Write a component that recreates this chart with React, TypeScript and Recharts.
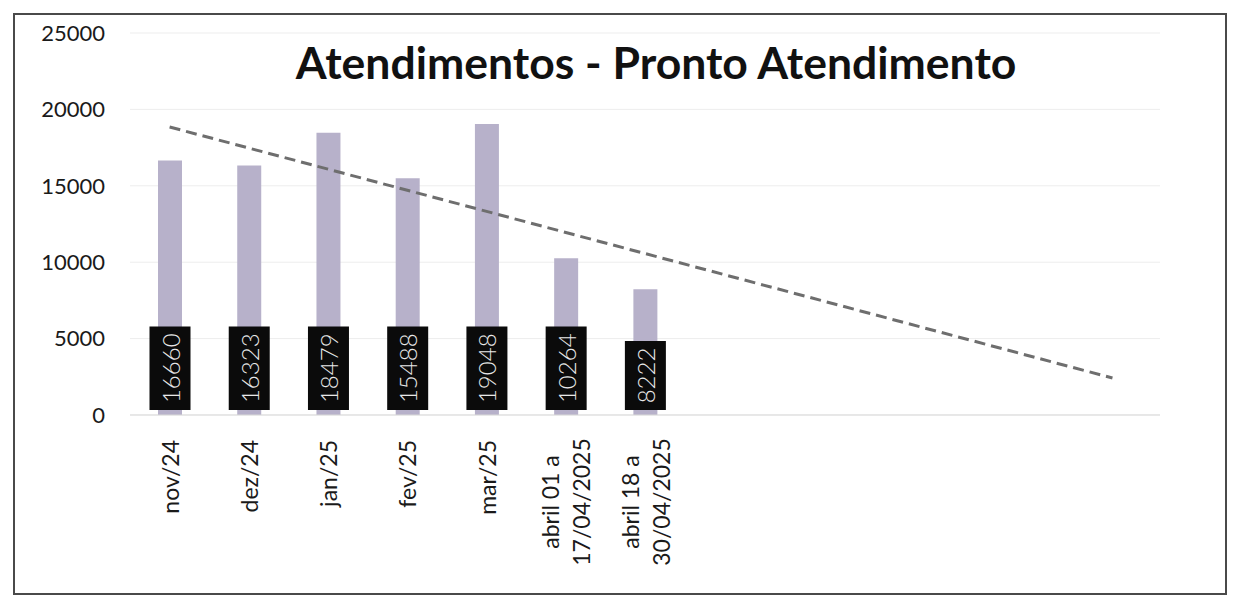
import { ComposedChart, Bar, XAxis, YAxis, CartesianGrid, ReferenceLine, LabelList } from "recharts";

const categories = [
  "nov/24",
  "dez/24",
  "jan/25",
  "fev/25",
  "mar/25",
  "abril 01 a\n17/04/2025",
  "abril 18 a\n30/04/2025",
];
const atendimentos = [16660, 16323, 18479, 15488, 19048, 10264, 8222];
const yTicks = [0, 5000, 10000, 15000, 20000, 25000];
// dashed linear trendline as it is drawn in the picture (start / end points)
const trendX = [1, 12.9];
const trendY = [18850, 2420];

const data = categories.map((c, i) => ({ idx: i + 1, name: c, value: atendimentos[i] }));

const FONT = "Lato, 'Open Sans', sans-serif";

const CategoryTick = ({ x, y, payload }: any) => {
  const label = categories[payload.value - 1];
  if (!label) return null;
  const lines = label.split("\n");
  const maxChars = Math.max(...lines.map((l) => l.length));
  const top = 17;
  return (
    <g transform={`translate(${x},${y})`}>
      {lines.map((line, i) => {
        const v = (i - (lines.length - 1) / 2) * 31;
        const single = lines.length === 1;
        return (
          <text
            key={i}
            transform="rotate(-90)"
            x={single ? -top : -(top + (maxChars * 12.4) / 2)}
            y={v}
            textAnchor={single ? "end" : "middle"}
            dominantBaseline="central"
            fontFamily={FONT}
            fontSize={23}
            fill="#1a1a1a"
          >
            {line}
          </text>
        );
      })}
    </g>
  );
};

const BaseLabel = (props: any) => {
  const { x, y, width, height, value } = props;
  const s = String(value);
  const cx = x + width / 2;
  const bottom = y + height - 5;
  const h = s.length * 14.5 + 11;
  const w = 41;
  return (
    <g>
      <rect x={cx - w / 2} y={bottom - h} width={w} height={h} fill="#0b0b0b" />
      <text
        transform={`translate(${cx},${bottom - h / 2}) rotate(-90)`}
        textAnchor="middle"
        dominantBaseline="central"
        fontFamily={FONT}
        fontWeight={300}
        fontSize={24}
        fill="#e8e8e8"
      >
        {s}
      </text>
    </g>
  );
};

export default function App() {
  return (
    <div style={{ position: "absolute", left: 0, top: 0, width: 1234, height: 603, background: "#fff" }}>
      <div
        style={{
          position: "absolute",
          left: 13,
          top: 13,
          width: 1214,
          height: 582,
          border: "2px solid #4a4a4a",
          boxSizing: "border-box",
        }}
      />
      <ComposedChart
        width={1234}
        height={603}
        data={data}
        margin={{ top: 33, right: 74, left: 0, bottom: 28 }}
        style={{ position: "absolute", left: 0, top: 0 }}
      >
        <CartesianGrid horizontal={true} vertical={false} stroke="#ededed" />
        <XAxis
          dataKey="idx"
          type="number"
          domain={[0.5, 13.5]}
          ticks={[1, 2, 3, 4, 5, 6, 7]}
          interval={0}
          height={160}
          tickLine={false}
          axisLine={{ stroke: "#d9d9d9" }}
          tick={<CategoryTick />}
          allowDataOverflow
        />
        <YAxis
          type="number"
          domain={[0, 25000]}
          ticks={yTicks}
          width={130}
          axisLine={false}
          tickLine={false}
          tickSize={0}
          tickMargin={25}
          tick={{ fontSize: 22, fill: "#1a1a1a", fontFamily: FONT }}
        />
        <Bar dataKey="value" fill="#b7b1ca" barSize={24} isAnimationActive={false}>
          <LabelList dataKey="value" content={<BaseLabel />} />
        </Bar>
        <ReferenceLine
          segment={[
            { x: trendX[0], y: trendY[0] },
            { x: trendX[1], y: trendY[1] },
          ]}
          stroke="#6e6e6e"
          strokeWidth={3}
          strokeDasharray="11 6"
          ifOverflow="visible"
        />
      </ComposedChart>
      <div
        style={{
          position: "absolute",
          left: 0,
          width: 1312,
          top: 35,
          textAlign: "center",
          fontFamily: FONT,
          fontWeight: 700,
          fontSize: 44.5,
          color: "#111",
          whiteSpace: "nowrap",
        }}
      >
        Atendimentos - Pronto Atendimento
      </div>
    </div>
  );
}
